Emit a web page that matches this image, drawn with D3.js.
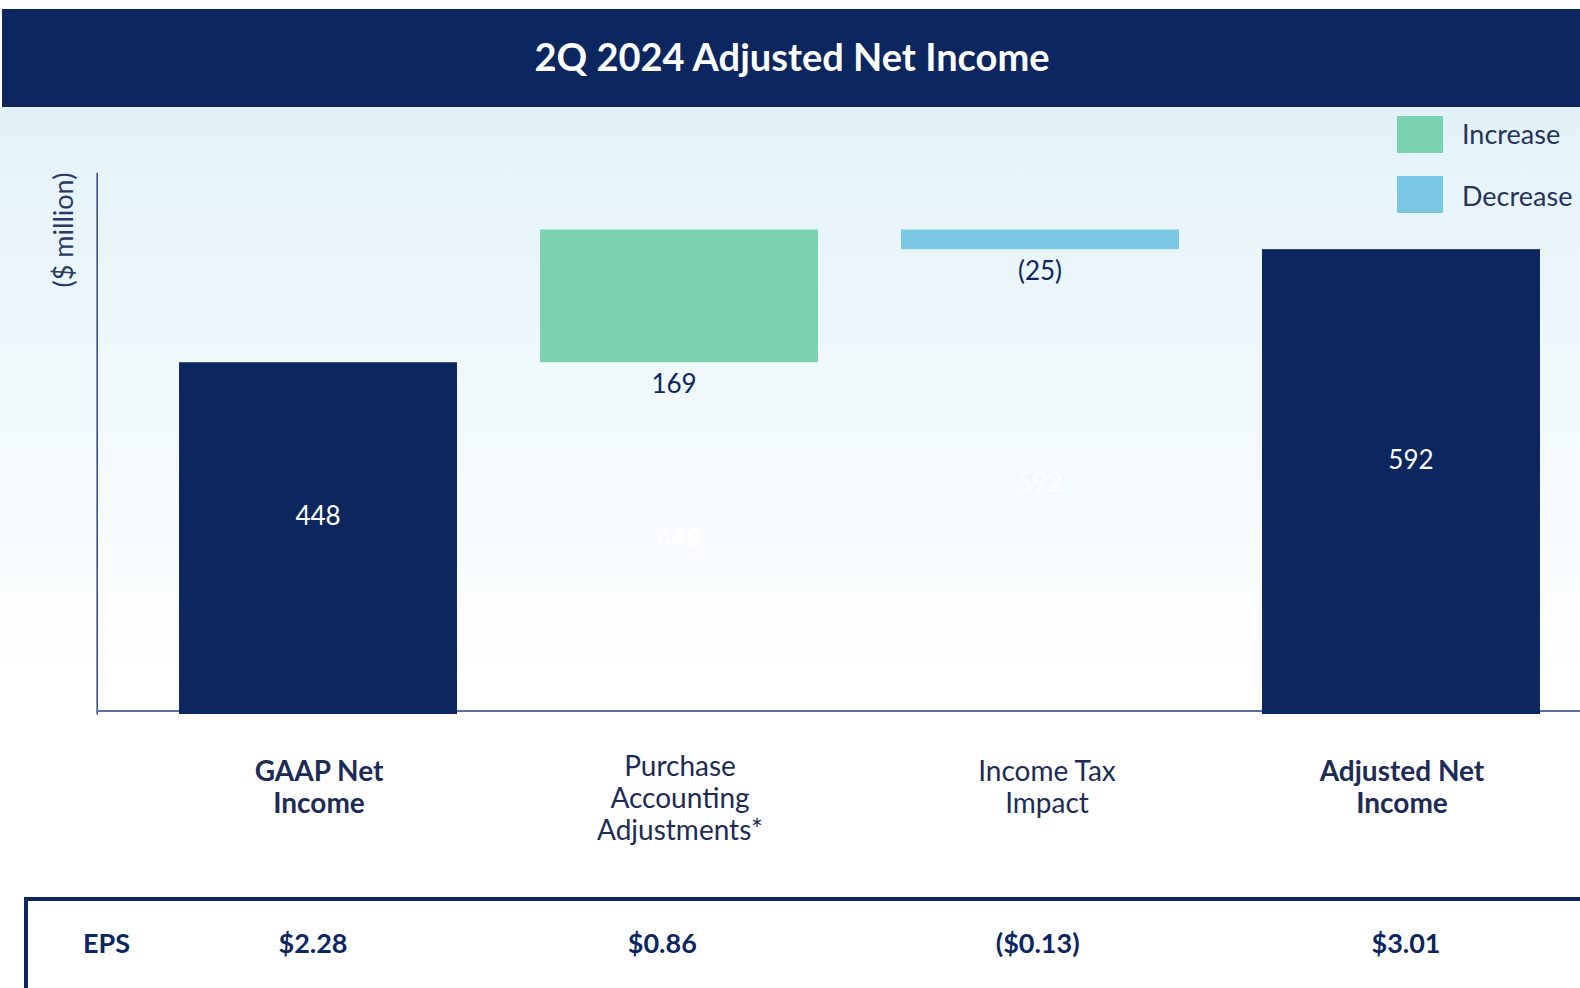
<!DOCTYPE html>
<html><head><meta charset="utf-8">
<script src="https://cdn.jsdelivr.net/npm/d3@7"></script>
<style>html,body{margin:0;padding:0;background:#fff;overflow:hidden}svg{display:block}text{font-family:Lato,"Open Sans",sans-serif}</style>
</head><body>
<script>
const title = "2Q 2024 Adjusted Net Income";
const categories = ["GAAP Net Income", "Purchase Accounting Adjustments*", "Income Tax Impact", "Adjusted Net Income"];
const categoryLines = [["GAAP Net", "Income"], ["Purchase", "Accounting", "Adjustments*"], ["Income Tax", "Impact"], ["Adjusted Net", "Income"]];
const categoryBold = [true, false, false, true];
const barTypes = ["total", "increase", "decrease", "total"];
const values = [448, 169, -25, 592];
const valueLabels = ["448", "169", "(25)", "592"];
const epsLabel = "EPS";
const epsValues = ["$2.28", "$0.86", "($0.13)", "$3.01"];
const legendItems = ["Increase", "Decrease"];
const yAxisTitle = "($ million)";

const W = 1580, H = 988;
const navy = "#0c2660", green = "#7ad3ae", blue = "#79c7e2", textCol = "#1d2b57";

const svg = d3.select("body").append("svg").attr("width", W).attr("height", H);
const defs = svg.append("defs");
const grad = defs.append("linearGradient").attr("id", "bg").attr("x1", 0).attr("y1", 0).attr("x2", 0).attr("y2", 1);
grad.append("stop").attr("offset", "0").attr("stop-color", "#e3f2f8");
grad.append("stop").attr("offset", "1").attr("stop-color", "#ffffff");

svg.append("rect").attr("x", 0).attr("y", 0).attr("width", W).attr("height", H).attr("fill", "#fff");
svg.append("rect").attr("x", 0).attr("y", 107).attr("width", W).attr("height", 590).attr("fill", "url(#bg)");

// title band
svg.append("rect").attr("x", 2).attr("y", 9).attr("width", W - 2).attr("height", 98).attr("fill", navy);
svg.append("text").attr("x", 792).attr("y", 55.5).attr("text-anchor", "middle").attr("dominant-baseline", "central")
  .attr("fill", "#fff").attr("font-size", 38).attr("font-weight", 700).text(title);

// waterfall computation
let cum = 0;
const bars = categories.map((c, i) => {
  const v = values[i];
  let lo, hi;
  if (barTypes[i] === "total") { lo = 0; hi = v; cum = v; }
  else if (v >= 0) { lo = cum; hi = cum + v; cum = hi; }
  else { hi = cum; lo = cum + v; cum = lo; }
  return { c, i, lo, hi, type: barTypes[i], label: valueLabels[i] };
});

const x = d3.scaleBand().domain(categories).range([96, 1623]).paddingInner(0.23).paddingOuter(0.23);
const y = d3.scaleLinear().domain([0, 690]).range([714, 172.2]);
const xEps = d3.scalePoint().domain(categories).range([313, 1406]);

// axes
const yAxis = svg.append("g").attr("transform", "translate(96.7,0)").call(d3.axisLeft(y).ticks(0).tickSizeOuter(0));
yAxis.select(".domain").attr("stroke", "#3d5080").attr("stroke-width", 1.6);
const xAxis = svg.append("g").attr("transform", "translate(0,710.5)")
  .call(d3.axisBottom(d3.scaleLinear().range([96, W])).ticks(0).tickSizeOuter(0));
xAxis.select(".domain").attr("stroke", "#5b6f9b").attr("stroke-width", 2);

svg.append("text").attr("transform", "translate(62,230) rotate(-90)").attr("text-anchor", "middle")
  .attr("dominant-baseline", "central").attr("fill", "#2a3a66").attr("font-size", 27).text(yAxisTitle);

// ghost base labels (white on background)
bars.filter(b => b.type !== "total").forEach(b => {
  const base = b.lo;
  svg.append("text").attr("x", x(b.c) + x.bandwidth() / 2).attr("y", y(base / 2))
    .attr("text-anchor", "middle").attr("dominant-baseline", "central")
    .attr("fill", "#ffffff").attr("font-size", 26).text(String(base));
});

const colorOf = t => t === "total" ? navy : (t === "increase" ? green : blue);
svg.selectAll("rect.bar").data(bars).join("rect").attr("class", "bar")
  .attr("x", d => x(d.c)).attr("width", x.bandwidth())
  .attr("y", d => y(d.hi)).attr("height", d => y(d.lo) - y(d.hi))
  .attr("fill", d => colorOf(d.type));

svg.selectAll("text.val").data(bars).join("text").attr("class", "val")
  .attr("x", d => x(d.c) + x.bandwidth() / 2 + (d.i === 3 ? 10 : (d.i === 1 ? -5 : 0)))
  .attr("y", d => d.type === "total" ? (y(d.hi) + y(d.lo)) / 2 - 23 : y(d.lo) + 21)
  .attr("text-anchor", "middle").attr("dominant-baseline", "central")
  .attr("fill", d => d.type === "total" ? "#fff" : navy).attr("font-size", 26)
  .text(d => d.label);

// category labels
categories.forEach((c, i) => {
  const lines = categoryLines[i];
  const y0 = lines.length === 3 ? 765 : 770;
  const dx = i === 2 ? 7 : 1;
  const t = svg.append("text").attr("text-anchor", "middle").attr("fill", textCol)
    .attr("font-size", 28).attr("font-weight", categoryBold[i] ? 700 : 400);
  lines.forEach((l, k) => {
    t.append("tspan").attr("x", x(c) + x.bandwidth() / 2 + dx).attr("y", y0 + k * 32)
      .attr("dominant-baseline", "central").text(l);
  });
});

// legend
const lg = svg.append("g");
legendItems.forEach((l, k) => {
  lg.append("rect").attr("x", 1397).attr("y", 116 + k * 60).attr("width", 46).attr("height", 37)
    .attr("fill", k === 0 ? green : blue);
  lg.append("text").attr("x", 1462).attr("y", 133 + k * 62).attr("dominant-baseline", "central")
    .attr("fill", "#26335a").attr("font-size", 27).text(l);
});

// EPS table
svg.append("line").attr("x1", 24).attr("x2", W).attr("y1", 899).attr("y2", 899).attr("stroke", navy).attr("stroke-width", 4);
svg.append("line").attr("x1", 26).attr("x2", 26).attr("y1", 897).attr("y2", H).attr("stroke", navy).attr("stroke-width", 4);
svg.append("text").attr("x", 83).attr("y", 942).attr("dominant-baseline", "central").attr("fill", navy)
  .attr("font-size", 27).attr("font-weight", 700).text(epsLabel);
svg.selectAll("text.eps").data(epsValues).join("text").attr("class", "eps")
  .attr("x", (d, i) => xEps(categories[i]) + (i === 1 ? -15 : (i === 2 ? -4 : 0)))
  .attr("y", 942).attr("text-anchor", "middle").attr("dominant-baseline", "central")
  .attr("fill", navy).attr("font-size", 27).attr("font-weight", 700).text(d => d);
</script>
</body></html>
